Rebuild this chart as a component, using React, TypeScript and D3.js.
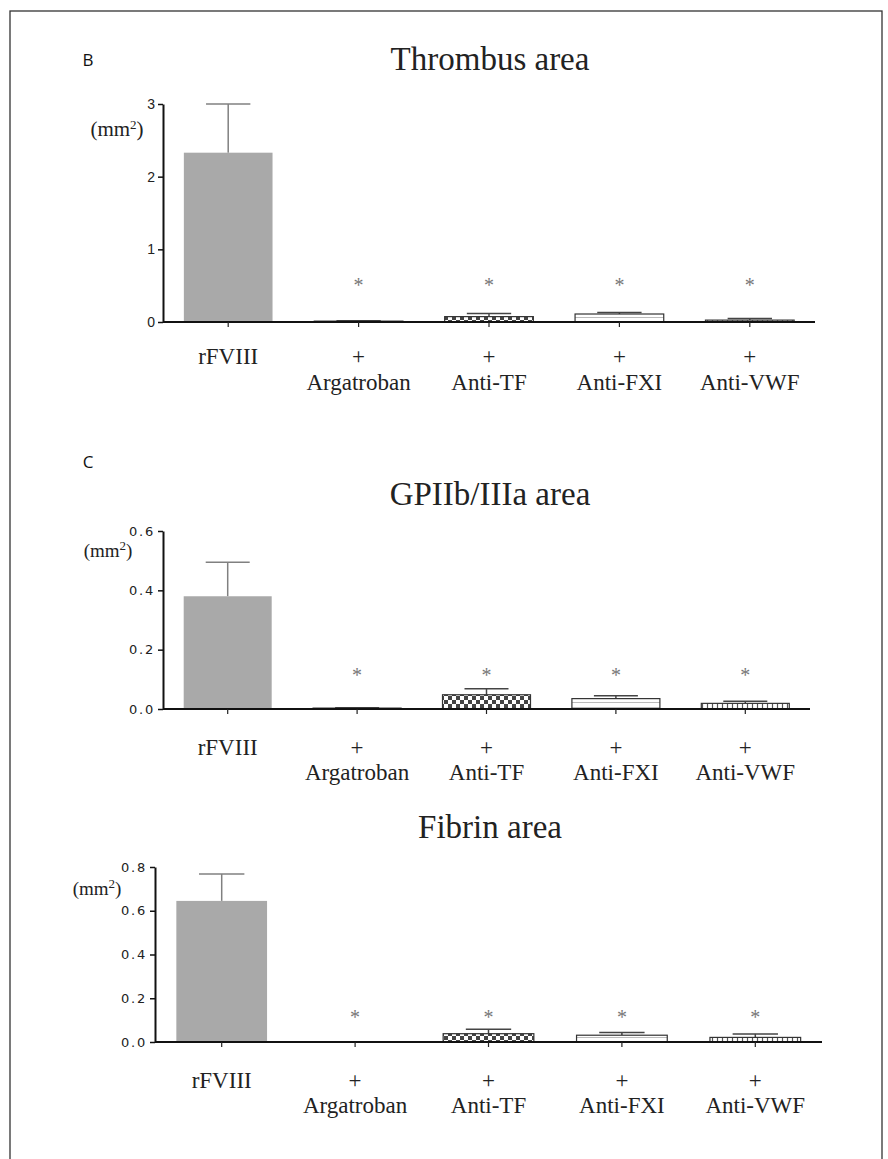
import React, { useRef, useEffect } from "react";
import { select, scaleBand, scaleLinear, axisLeft, format } from "d3";

// groups along the x axis
const categories = ["rFVIII", "Argatroban", "Anti-TF", "Anti-FXI", "Anti-VWF"];
const labelTop = ["rFVIII", "+", "+", "+", "+"];
const labelBottom = ["", "Argatroban", "Anti-TF", "Anti-FXI", "Anti-VWF"];
const significant = [false, true, true, true, true];
const fills = ["solid", "dark", "check", "hline", "vstripe"];

// B - thrombus area (mm2)
const thrombusMean = [2.33, 0.012, 0.074, 0.11, 0.026];
const thrombusSem = [0.67, 0.004, 0.043, 0.022, 0.022];
const thrombusTicks = [0, 1, 2, 3];

// C - GPIIb/IIIa area (mm2)
const gpMean = [0.38, 0.003, 0.048, 0.035, 0.019];
const gpSem = [0.115, 0.001, 0.02, 0.01, 0.007];
const gpTicks = [0, 0.2, 0.4, 0.6];

// fibrin area (mm2)
const fibrinMean = [0.645, 0, 0.038, 0.031, 0.021];
const fibrinSem = [0.123, 0, 0.02, 0.013, 0.016];
const fibrinTicks = [0, 0.2, 0.4, 0.6, 0.8];

const SERIF = "'Liberation Serif', 'Times New Roman', serif";
const SANS = "'Liberation Sans', Arial, sans-serif";
const WIDE = "'DejaVu Sans', Verdana, sans-serif";

const panels = [
  {
    letter: "B", title: "Thrombus area", mean: thrombusMean, sem: thrombusSem,
    ticks: thrombusTicks, fmt: "d", tickFont: SANS, tickSize: 14, spacing: 0,
    xr: [163, 815], yr: [322, 104],
    letterPos: [88, 66], titleY: 70, unit: [117, 136], starY: 292, row1: 364, row2: 390,
  },
  {
    letter: "C", title: "GPIIb/IIIa area", mean: gpMean, sem: gpSem,
    ticks: gpTicks, fmt: ".1f", tickFont: WIDE, tickSize: 13, spacing: 1.8,
    xr: [163, 810], yr: [709, 531],
    letterPos: [88, 468], titleY: 505, unit: [108, 557], starY: 682, row1: 755, row2: 780,
  },
  {
    letter: "", title: "Fibrin area", mean: fibrinMean, sem: fibrinSem,
    ticks: fibrinTicks, fmt: ".1f", tickFont: WIDE, tickSize: 13, spacing: 1.8,
    xr: [155, 822], yr: [1042, 867],
    letterPos: [0, 0], titleY: 838, unit: [97, 895], starY: 1024, row1: 1088, row2: 1113,
  },
];

function App() {
  const svgRef = useRef<SVGSVGElement>(null);

  useEffect(() => {
    const svg = select(svgRef.current);
    svg.selectAll("*").remove();

    const defs = svg.append("defs");
    const check = defs.append("pattern").attr("id", "check")
      .attr("width", 8).attr("height", 8).attr("patternUnits", "userSpaceOnUse");
    check.append("rect").attr("width", 8).attr("height", 8).attr("fill", "#fff");
    check.append("rect").attr("width", 4).attr("height", 4).attr("fill", "#444");
    check.append("rect").attr("x", 4).attr("y", 4).attr("width", 4).attr("height", 4).attr("fill", "#444");

    const hline = defs.append("pattern").attr("id", "hline")
      .attr("width", 6).attr("height", 5).attr("patternUnits", "userSpaceOnUse");
    hline.append("rect").attr("width", 6).attr("height", 5).attr("fill", "#fff");
    hline.append("line").attr("x1", 0).attr("x2", 6).attr("y1", 2.5).attr("y2", 2.5)
      .attr("stroke", "#bbb").attr("stroke-width", 1);

    const vstripe = defs.append("pattern").attr("id", "vstripe")
      .attr("width", 5).attr("height", 6).attr("patternUnits", "userSpaceOnUse");
    vstripe.append("rect").attr("width", 5).attr("height", 6).attr("fill", "#fff");
    vstripe.append("line").attr("x1", 2.5).attr("x2", 2.5).attr("y1", 0).attr("y2", 6)
      .attr("stroke", "#555").attr("stroke-width", 1.2);

    // outer frame
    svg.append("rect").attr("x", 10).attr("y", 11).attr("width", 872).attr("height", 1160)
      .attr("fill", "none").attr("stroke", "#333").attr("stroke-width", 1.3);

    panels.forEach(p => {
      const g = svg.append("g");
      const rows = categories.map((c, i) => ({ c, i, m: p.mean[i], s: p.sem[i] }));

      const xScale = scaleBand().domain(categories).range(p.xr as [number, number])
        .paddingInner(0.32).paddingOuter(0.16);
      const yScale = scaleLinear().domain([0, p.ticks[p.ticks.length - 1]]).range(p.yr as [number, number]);
      const bw = xScale.bandwidth();
      const cx = (c: string) => (xScale(c) as number) + bw / 2;

      if (p.letter) {
        g.append("text").attr("x", p.letterPos[0]).attr("y", p.letterPos[1]).attr("text-anchor", "middle")
          .attr("font-family", "'Open Sans', sans-serif").attr("font-size", 17).attr("fill", "#111")
          .text(p.letter);
      }
      g.append("text").attr("x", 490).attr("y", p.titleY).attr("text-anchor", "middle")
        .attr("font-family", SERIF).attr("font-size", 33).attr("fill", "#222").text(p.title);

      const unit = g.append("text").attr("x", p.unit[0]).attr("y", p.unit[1]).attr("text-anchor", "middle")
        .attr("font-family", SERIF).attr("font-size", p.tickSize === 14 ? 21 : 19).attr("fill", "#222");
      unit.append("tspan").text("(mm");
      unit.append("tspan").attr("font-size", 13).attr("dy", -7).text("2");
      unit.append("tspan").attr("dy", 7).text(")");

      // error bars (upward only)
      rows.filter(d => d.s > 0).forEach(d => {
        const col = d.i === 0 ? "#808080" : "#444";
        g.append("line").attr("x1", cx(d.c)).attr("x2", cx(d.c))
          .attr("y1", yScale(d.m)).attr("y2", yScale(d.m + d.s)).attr("stroke", col).attr("stroke-width", 1.5);
        g.append("line").attr("x1", cx(d.c) - bw / 4).attr("x2", cx(d.c) + bw / 4)
          .attr("y1", yScale(d.m + d.s)).attr("y2", yScale(d.m + d.s)).attr("stroke", col).attr("stroke-width", 1.5);
      });

      // bars
      g.selectAll(".bar").data(rows.filter(d => d.m > 0)).join("rect")
        .attr("x", d => xScale(d.c) as number)
        .attr("y", d => yScale(d.m))
        .attr("width", bw)
        .attr("height", d => yScale(0) - yScale(d.m))
        .attr("fill", d => {
          const f = fills[d.i];
          if (f === "solid") return "#a9a9a9";
          if (f === "dark") return "#444";
          return `url(#${f})`;
        })
        .attr("stroke", d => (fills[d.i] === "solid" ? "none" : "#333"))
        .attr("stroke-width", 1.2);

      // y axis
      const yAxis = axisLeft(yScale).tickValues(p.ticks).tickFormat(format(p.fmt) as any)
        .tickSize(5).tickSizeOuter(0).tickPadding(3);
      const ya = g.append("g").attr("transform", `translate(${p.xr[0]},0)`).call(yAxis);
      ya.select(".domain").attr("stroke", "#111").attr("stroke-width", 2);
      ya.selectAll(".tick line").attr("stroke", "#111").attr("stroke-width", 1.5);
      ya.selectAll(".tick text").attr("font-family", p.tickFont).attr("font-size", p.tickSize)
        .attr("fill", "#222").attr("letter-spacing", p.spacing);

      // x axis baseline with small ticks
      g.append("line").attr("x1", p.xr[0]).attr("x2", p.xr[1])
        .attr("y1", yScale(0)).attr("y2", yScale(0)).attr("stroke", "#111").attr("stroke-width", 1.8);
      rows.forEach(d => {
        g.append("line").attr("x1", cx(d.c)).attr("x2", cx(d.c))
          .attr("y1", yScale(0)).attr("y2", yScale(0) + 5).attr("stroke", "#222").attr("stroke-width", 1.2);
      });

      // significance marks
      rows.filter(d => significant[d.i]).forEach(d => {
        g.append("text").attr("x", cx(d.c)).attr("y", p.starY).attr("text-anchor", "middle")
          .attr("font-family", SERIF).attr("font-size", 20).attr("fill", "#777").text("*");
      });

      // category labels
      rows.forEach(d => {
        g.append("text").attr("x", cx(d.c)).attr("y", p.row1).attr("text-anchor", "middle")
          .attr("font-family", SERIF).attr("font-size", 23).attr("fill", "#222").text(labelTop[d.i]);
        if (labelBottom[d.i]) {
          g.append("text").attr("x", cx(d.c)).attr("y", p.row2).attr("text-anchor", "middle")
            .attr("font-family", SERIF).attr("font-size", 23).attr("fill", "#222").text(labelBottom[d.i]);
        }
      });
    });
  }, []);

  return (
    <div style={{ position: "absolute", left: 0, top: 0 }}>
      <svg ref={svgRef} width={888} height={1159} style={{ display: "block", background: "#fff" }} />
    </div>
  );
}

export default App;
